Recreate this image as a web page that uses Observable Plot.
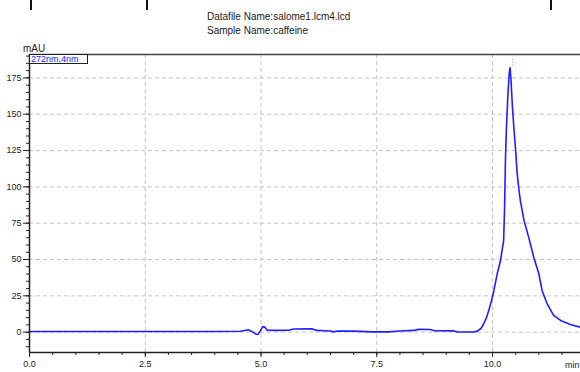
<!DOCTYPE html>
<html>
<head>
<meta charset="utf-8">
<script src="https://cdn.jsdelivr.net/npm/d3@7"></script>
<script src="https://cdn.jsdelivr.net/npm/@observablehq/plot@0.6"></script>
<style>
  html, body { margin: 0; padding: 0; background: #fff; }
  #wrap { position: relative; width: 580px; height: 372px; overflow: hidden; font-family: "Liberation Sans", Arial, sans-serif; }
  .bar { position: absolute; top: 0; width: 2px; height: 10px; background: #111; }
  #info { position: absolute; left: 207px; top: 10px; font-size: 10px; line-height: 13.5px; color: #222; }
  #unit { position: absolute; left: 23px; top: 43px; font-size: 10px; color: #222; }
  #legend { position: absolute; left: 29px; top: 54px; width: 59px; height: 10px; border: 1px solid #222; font-size: 9px; line-height: 9px; color: #2020ff; padding-left: 1px; box-sizing: border-box; background: #fff; }
  #chart { position: absolute; left: 0; top: 0; }
</style>
</head>
<body>
<div id="wrap">
  <div class="bar" style="left:30px"></div>
  <div class="bar" style="left:146px"></div>
  <div class="bar" style="left:550px"></div>
  <div id="info">Datafile Name:salome1.lcm4.lcd<br>Sample Name:caffeine</div>
  <div id="chart"></div>
  <div id="unit">mAU</div>
  <div id="legend">272nm,4nm</div>
</div>
<script>
// Retention time (min) and absorbance (mAU)
const times = [0.0, 1.0, 2.0, 3.0, 4.0, 4.55, 4.65, 4.72, 4.80, 4.88, 4.93, 4.98, 5.04, 5.08, 5.13, 5.3, 5.6, 5.7, 6.1, 6.2, 6.5, 6.57, 6.65, 7.0, 7.4, 7.75, 8.0, 8.3, 8.4, 8.65, 8.75, 9.15, 9.25, 9.6, 9.67, 9.75, 9.81, 9.87, 9.92, 9.98, 10.03, 10.10, 10.17, 10.24, 10.26, 10.28, 10.30, 10.33, 10.36, 10.38, 10.40, 10.43, 10.46, 10.50, 10.53, 10.57, 10.60, 10.68, 10.78, 10.89, 11.0, 11.07, 11.18, 11.32, 11.47, 11.68, 11.9];
const mAU   = [0.5, 0.5, 0.5, 0.5, 0.5, 0.6, 1.2, 1.6, 0.5, -1.2, -1.6, 0.5, 3.8, 3.6, 1.4, 1.2, 1.3, 2.2, 2.3, 1.2, 0.8, 0.2, 0.8, 0.7, 0.2, 0.2, 0.8, 1.2, 1.9, 1.8, 1.0, 0.9, 0.1, 0.1, 0.7, 2.5, 5.8, 10, 15, 22, 28.7, 40, 49, 63, 85, 120, 140, 162, 178, 182, 173, 155, 141, 125, 110, 98, 90.7, 76.9, 65.4, 51.6, 40.2, 28.7, 19.5, 11.5, 8.1, 5.3, 3.4];

const xTicks = [0, 2.5, 5, 7.5, 10];
const xMinor = d3.range(0, 12, 0.5);
const yTicks = [0, 25, 50, 75, 100, 125, 150, 175];
const yMinor = d3.range(-10, 191, 5);
const xDomain = [0, 11.9];
const yDomain = [-14, 191.1];
const xUnit = "min";
const peakTime = [10.43];

const data = times.map((t, i) => ({t, v: mAU[i]}));
const grid = {stroke: "#c4c4c4", strokeWidth: 1, strokeDasharray: "4,3"};

const chart = Plot.plot({
  width: 580,
  height: 372,
  marginTop: 54,
  marginBottom: 20,
  marginLeft: 29,
  marginRight: 0,
  style: {fontFamily: "Liberation Sans, Arial, sans-serif", fontSize: "9px", background: "transparent", overflow: "visible"},
  x: {domain: xDomain, label: null},
  y: {domain: yDomain, label: null},
  marks: [
    Plot.ruleX(xTicks.filter(d => d > 0), {...grid}),
    Plot.ruleY(yTicks, {...grid}),
    Plot.line(data, {x: "t", y: "v", stroke: "#1f1fff", strokeWidth: 1.6}),
    Plot.ruleX(peakTime, {y1: 183, y2: 189, stroke: "#e08020", strokeWidth: 1, strokeDasharray: "1,2"}),
    Plot.ruleY([yDomain[1]], {stroke: "#444", strokeWidth: 1.5}),
    Plot.ruleY([yDomain[0]], {stroke: "#222", strokeWidth: 1.5}),
    Plot.ruleX([0], {stroke: "#222", strokeWidth: 1.5}),
    Plot.axisY({ticks: yMinor, tickSize: 3, text: null, color: "#222", label: null}),
    Plot.axisY({ticks: yTicks, tickSize: 6, tickPadding: 2, tickFormat: d => String(d), color: "#222", label: null}),
    Plot.axisX({ticks: xMinor, tickSize: 3, text: null, color: "#222", label: null}),
    Plot.axisX({ticks: xTicks, tickSize: 5, tickPadding: 3, tickFormat: d3.format(".1f"), color: "#222", label: null}),
    Plot.text([xUnit], {frameAnchor: "bottom-right", dx: -1, dy: 13, textAnchor: "end", lineAnchor: "middle", fill: "#222"})
  ]
});
document.getElementById("chart").appendChild(chart);
</script>
</body>
</html>
